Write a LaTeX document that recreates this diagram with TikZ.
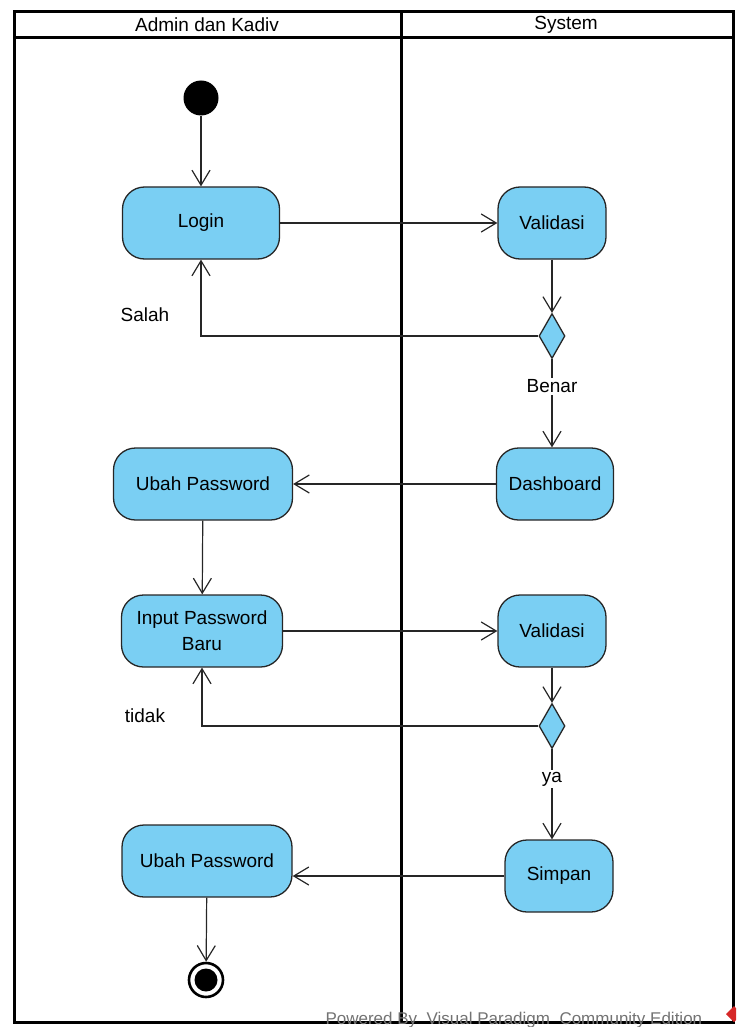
\documentclass[tikz,border=0pt]{standalone}
\usepackage{fontspec}
\setmainfont{Liberation Sans}
\usetikzlibrary{arrows.meta,shapes.geometric}

\definecolor{actblue}{RGB}{122,207,243}
\definecolor{vpred}{RGB}{214,40,40}

\begin{document}
\begin{tikzpicture}[x=1pt, y=-1pt]

    \tikzstyle{action}=[draw=black!85, line width=1.3pt, fill=actblue, rounded corners=22pt, align=center, minimum height=72pt, inner sep=2pt, font=\fontsize{19}{26}\selectfont];
    \tikzstyle{decision}=[diamond, draw=black!85, line width=1.3pt, fill=actblue, minimum width=26pt, minimum height=45pt, inner sep=0pt];
    \tikzstyle{flow}=[-{Straight Barb[length=15pt, width=18pt, line width=1.2pt]}, line width=1.2pt, draw=black!85];
    \tikzstyle{guard}=[fill=white, text=black, inner sep=2pt, font=\fontsize{19}{22}\selectfont];

    \clip (0,0) rectangle (736,1027);
    \useasboundingbox (0,0) rectangle (736,1027);

    % swimlanes
    \draw[line width=3pt] (14,12) rectangle (733,1022);
    \draw[line width=3pt] (14,38) -- (733,38);
    \draw[line width=3pt] (401,12) -- (401,1022);
    \node[font=\fontsize{19}{22}\selectfont] (lane1) at (207,25) {Admin dan Kadiv};
    \node[font=\fontsize{19}{22}\selectfont] (lane2) at (566,25) {System};

    % nodes
    \node[circle, fill=black, minimum size=35pt, inner sep=0pt] (start) at (201,98) {};
    \node[action, minimum width=157pt] (login) at (201,223) {Login};
    \node[action, minimum width=108pt] (val1) at (552,223) {Validasi};
    \node[decision] (d1) at (552,336) {};
    \node[action, minimum width=117pt] (dash) at (555,484) {Dashboard};
    \node[action, minimum width=179pt] (ubah1) at (203,484) {Ubah Password};
    \node[action, minimum width=161pt] (input) at (202,631) {Input Password\\Baru};
    \node[action, minimum width=108pt] (val2) at (552,631) {Validasi};
    \node[decision] (d2) at (552,726) {};
    \node[action, minimum width=108pt] (simpan) at (559,876) {Simpan};
    \node[action, minimum width=170pt] (ubah2) at (207,861) {Ubah Password};
    \node[circle, draw, line width=2.6pt, minimum size=34pt, inner sep=0pt] (end) at (206,980) {};
    \fill (end.center) circle (11.5);

    % transitions
    \draw[flow] (start) -- (login);
    \draw[flow] (login) -- (val1);
    \draw[flow] (val1) -- (d1.north);
    \draw[flow] (d1.west) -| (login.south);
    \node[font=\fontsize{19}{22}\selectfont] (salah) at (145,315) {Salah};
    \draw[flow] (d1.south) -- node[guard, pos=0.31] (benar) {Benar} (d1.south |- dash.north);
    \draw[flow] (dash) -- (ubah1);
    \draw[flow] (ubah1) -- (input);
    \draw[flow] (input) -- (val2);
    \draw[flow] (val2) -- (d2.north);
    \draw[flow] (d2.west) -| (input.south);
    \node[font=\fontsize{19}{22}\selectfont] (tidak) at (145,716) {tidak};
    \draw[flow] (d2.south) -- node[guard, pos=0.33] (ya) {ya} (d2.south |- simpan.north);
    \draw[flow] (simpan.west) -- (simpan.west -| ubah2.east);
    \draw[flow] (ubah2) -- (end);

    % editor watermark
    \node[text=black!55, font=\fontsize{17}{20}\selectfont, anchor=west] (mark) at (322,1020) {Powered By\ \ Visual Paradigm\ \ Community Edition};
    \fill[vpred] (734,1006) -- (742,1014) -- (734,1022) -- (726,1014) -- cycle;

\end{tikzpicture}
\end{document}
